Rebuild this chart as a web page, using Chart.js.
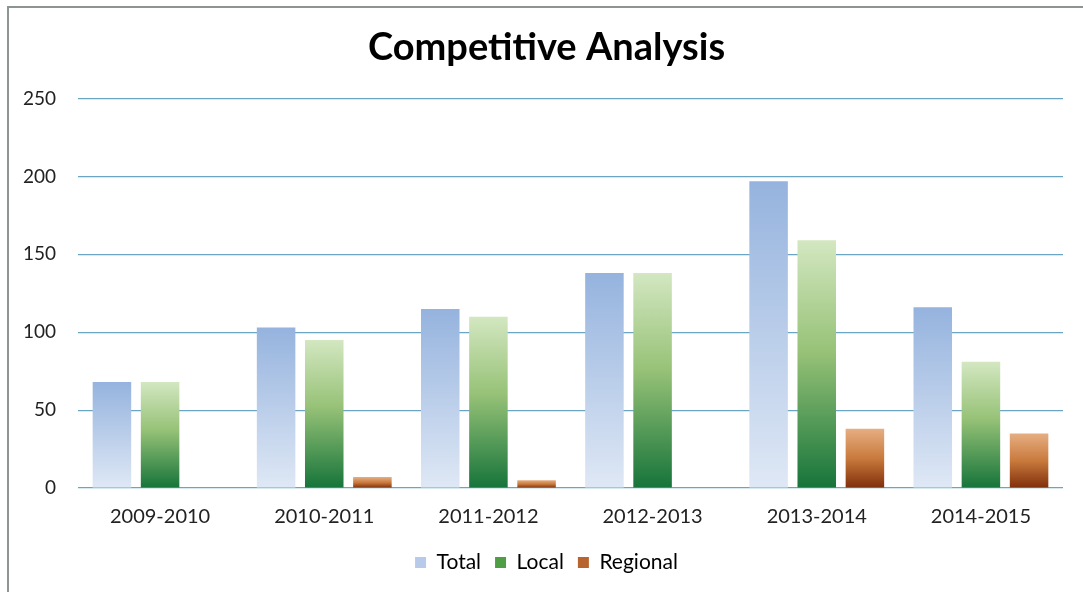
<!DOCTYPE html>
<html>
<head>
<meta charset="utf-8">
<script src="https://cdn.jsdelivr.net/npm/chart.js@4/dist/chart.umd.min.js"></script>
<style>
  html, body { margin: 0; padding: 0; background: #fff; }
  #frame {
    position: absolute;
    left: 7px;
    top: 6px;
    width: 1076px;
    height: 586px;
    border-top: 2px solid #8c9494;
    border-left: 2px solid #8c9494;
  }
  #wrap { position: absolute; left: 0; top: 0; width: 1083px; height: 592px; }
</style>
</head>
<body>
<div id="frame"></div>
<div id="wrap"><canvas id="chart"></canvas></div>
<script>
// seasons on the x-axis
const seasons = ['2009-2010', '2010-2011', '2011-2012', '2012-2013', '2013-2014', '2014-2015'];

// competitor counts per season
const totalCounts = [68, 103, 115, 138, 197, 116];
const localCounts = [68, 95, 110, 138, 159, 81];
const regionalCounts = [0, 7, 5, 0, 38, 35];

// y-axis ticks
const yTicks = [0, 50, 100, 150, 200, 250];

/**
 * build a vertical gradient that runs from the top of a bar to its base
 * @param {array} stops list of [offset, colour] pairs, top to bottom
 * @param {string} fallback flat colour used before the scales are ready
 */
const barGradient = (stops, fallback) => context => {
  const chart = context.chart;
  const yScale = chart.scales.y;
  if (!chart.chartArea || !yScale || context.type !== 'data') {
    return fallback;
  }
  const value = context.raw || 0;
  const top = yScale.getPixelForValue(value);
  const bottom = yScale.getPixelForValue(0);
  if (bottom - top < 1) {
    return fallback;
  }
  const gradient = chart.ctx.createLinearGradient(0, top, 0, bottom);
  stops.forEach(([offset, color]) => gradient.addColorStop(offset, color));
  return gradient;
};

const datasets = [
  {
    label: 'Total',
    data: totalCounts,
    backgroundColor: barGradient([[0, '#95b3de'], [1, '#dfe8f5']], '#b7cae9')
  },
  {
    label: 'Local',
    data: localCounts,
    backgroundColor: barGradient(
      [[0, '#d3e7c1'], [0.45, '#97c277'], [1, '#16743a']],
      '#4f9e45'
    )
  },
  {
    label: 'Regional',
    data: regionalCounts,
    backgroundColor: barGradient(
      [[0, '#e6ae82'], [0.5, '#c97a3c'], [1, '#7f2e0b']],
      '#c06a32'
    )
  }
];

// flat swatches for the legend
const legendColors = ['#b7cae9', '#4f9e45', '#b8642e'];

Chart.defaults.font.family = 'Lato, "Open Sans", sans-serif';
Chart.defaults.color = '#333';

new Chart(document.getElementById('chart'), {
  type: 'bar',
  data: { labels: seasons, datasets },
  options: {
    responsive: true,
    maintainAspectRatio: false,
    animation: false,
    layout: { padding: { top: 14, right: 0, bottom: 9, left: 10 } },
    datasets: {
      bar: { barPercentage: 0.8, categoryPercentage: 0.88 }
    },
    plugins: {
      title: {
        display: true,
        text: 'Competitive Analysis',
        color: '#000',
        font: { size: 38, weight: 'bold' },
        padding: { top: 11, bottom: 28 }
      },
      legend: {
        position: 'bottom',
        labels: {
          boxWidth: 11,
          boxHeight: 11,
          padding: 14,
          font: { size: 21 },
          color: '#222',
          generateLabels: chart =>
            chart.data.datasets.map((ds, i) => ({
              text: ds.label,
              fillStyle: legendColors[i],
              strokeStyle: legendColors[i],
              lineWidth: 0,
              datasetIndex: i
            }))
        }
      },
      tooltip: { enabled: false }
    },
    scales: {
      x: {
        grid: { display: false },
        border: { display: false },
        ticks: { font: { size: 20 }, color: '#222', padding: 9 }
      },
      y: {
        min: 0,
        max: 250,
        afterBuildTicks: scale => {
          scale.ticks = yTicks.map(v => ({ value: v }));
        },
        afterFit: scale => {
          scale.width = 68;
        },
        grid: { color: '#6aa6c4', lineWidth: 1.2, drawTicks: false },
        border: { display: false },
        ticks: { font: { size: 19 }, color: '#222', padding: 22 }
      },
      // empty strip on the right so the plot stops short of the edge
      yRight: {
        type: 'linear',
        position: 'right',
        min: 0,
        max: 250,
        afterFit: scale => {
          scale.width = 20;
        },
        grid: { display: false },
        border: { display: false },
        ticks: { display: false }
      }
    }
  }
});
</script>
</body>
</html>
